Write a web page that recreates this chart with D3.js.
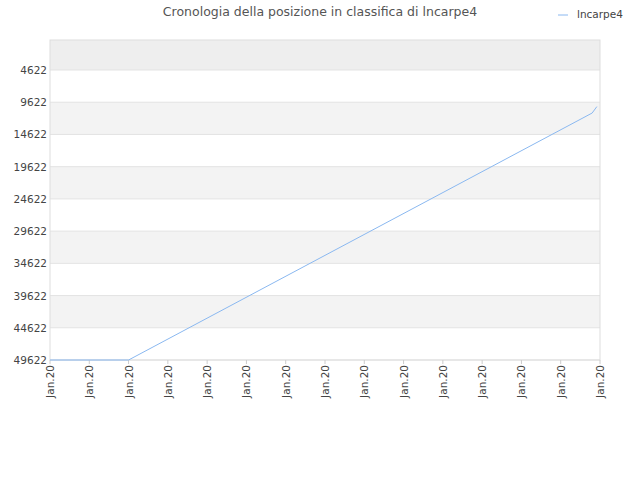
<!DOCTYPE html>
<html><head><meta charset="utf-8">
<script src="https://cdn.jsdelivr.net/npm/d3@7"></script>
<style>body{margin:0;background:#fff}text{font-family:"DejaVu Sans",sans-serif}</style>
</head><body><svg id="c" width="640" height="480"></svg>
<script>
const xLabels = Array(15).fill("Jan.20");
const yTicks = [4622, 9622, 14622, 19622, 24622, 29622, 34622, 39622, 44622, 49622];
const seriesX = [0, 2, 13.8, 13.92];
const seriesY = [49622, 49622, 11300, 10300];
const seriesName = "lncarpe4";

const svg = d3.select("#c");
const L = 50, R = 600, T = 40, B = 360;
const x = d3.scaleLinear().domain([0, 14]).range([L, R]);
const y = d3.scaleLinear().domain([-35, 49622]).range([T, B]);

const edges = [-35, ...yTicks];
for (let i = 0; i < edges.length - 1; i++) {
  const c = i === 0 ? "#eeeeee" : (i % 2 === 0 ? "#f3f3f3" : "#ffffff");
  svg.append("rect").attr("x", L).attr("width", R - L)
    .attr("y", y(edges[i])).attr("height", y(edges[i + 1]) - y(edges[i])).attr("fill", c);
}
yTicks.forEach(v => svg.append("line").attr("x1", L).attr("x2", R).attr("y1", y(v)).attr("y2", y(v)).attr("stroke", "#e3e3e3"));
svg.append("rect").attr("x", L).attr("y", T).attr("width", R - L).attr("height", B - T).attr("fill", "none").attr("stroke", "#dddddd");

yTicks.forEach(v => svg.append("text").attr("x", L - 3).attr("y", y(v) + 4).attr("text-anchor", "end")
  .attr("font-size", 10.5).attr("fill", "#444").text(v));
xLabels.forEach((t, i) => {
  svg.append("line").attr("x1", x(i)).attr("x2", x(i)).attr("y1", B).attr("y2", B + 4).attr("stroke", "#ccc");
  svg.append("text").attr("transform", `translate(${x(i) + 4},${B + 5}) rotate(-90)`)
    .attr("text-anchor", "end").attr("font-size", 10.5).attr("fill", "#444").text(t);
});

const line = d3.line().x(d => x(d[0])).y(d => y(d[1]));
svg.append("path").datum(seriesX.map((v, i) => [v, seriesY[i]])).attr("d", line)
  .attr("fill", "none").attr("stroke", "#8ab8f0").attr("stroke-width", 1);

svg.append("text").attr("x", 320).attr("y", 16).attr("text-anchor", "middle").attr("font-size", 12.5)
  .attr("fill", "#555").text("Cronologia della posizione in classifica di lncarpe4");
svg.append("line").attr("x1", 558).attr("x2", 568).attr("y1", 15).attr("y2", 15).attr("stroke", "#8ab8f0");
svg.append("text").attr("x", 577).attr("y", 18).attr("font-size", 10.5).attr("fill", "#444").text(seriesName);
</script></body></html>
